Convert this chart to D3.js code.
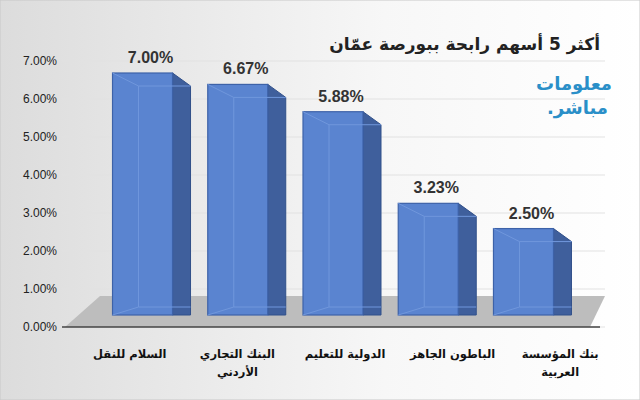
<!DOCTYPE html>
<html><head><meta charset="utf-8">
<script src="https://cdn.jsdelivr.net/npm/d3@7"></script>
<style>body{margin:0}svg{display:block}</style>
</head><body><svg id="c" width="640" height="400"></svg>
<script>
const categories = [["السلام للنقل"],["البنك التجاري","الأردني"],["الدولية للتعليم"],["الباطون الجاهز"],["بنك المؤسسة","العربية"]];
const values = [7.00, 6.67, 5.88, 3.23, 2.50];
const ticks = [0,1,2,3,4,5,6,7];

const svg = d3.select("#c");
const defs = svg.append("defs");
const bg = defs.append("linearGradient").attr("id","bg").attr("x1","0").attr("x2","1").attr("y1","0").attr("y2","0");
bg.append("stop").attr("offset","0").attr("stop-color","#dcdcdc");
bg.append("stop").attr("offset","0.6").attr("stop-color","#f7f7f7");
bg.append("stop").attr("offset","1").attr("stop-color","#ffffff");
svg.append("rect").attr("width",640).attr("height",400).attr("fill","url(#bg)").attr("stroke","#c8c8c8");

const yBack = d3.scaleLinear().domain([0,7]).range([327,61]);
const yFront = d3.scaleLinear().domain([0,7]).range([315,73]);
const x = d3.scaleBand().domain(d3.range(values.length)).range([103,563]).paddingInner(0.37).paddingOuter(0.1);
// labels sit on the front edge of the floor, which is wider in perspective
const xLab = d3.scaleBand().domain(d3.range(values.length)).range([76,614]);
const dx = 18, dy = 13;

svg.append("g").selectAll("line").data(ticks).enter().append("line")
  .attr("x1",62).attr("x2",605).attr("y1",d=>yBack(d)).attr("y2",d=>yBack(d))
  .attr("stroke","#e2e2e2").attr("stroke-width",1.2);
svg.append("g").selectAll("text").data(ticks).enter().append("text")
  .attr("x",57).attr("y",d=>yBack(d)+4).attr("text-anchor","end")
  .attr("font-family","Liberation Sans, Arial").attr("font-size",12).attr("fill","#222")
  .text(d=>d.toFixed(2)+"%");

svg.append("polygon").attr("points","100,296 605,296 590,327 65,327").attr("fill","#bdbdbd");
svg.append("line").attr("x1",62).attr("x2",600).attr("y1",327).attr("y2",327).attr("stroke","#444").attr("stroke-width",1.5);

const g = svg.append("g");
values.forEach((v,i)=>{
  const x0 = x(i), w = x.bandwidth(), t = yFront(v), b = yFront(0);
  g.append("polygon").attr("points",`${x0+w},${t} ${x0+w+dx},${t+dy} ${x0+w+dx},${b} ${x0+w},${b}`)
   .attr("fill","#3f5f9c").attr("stroke","#31508a");
  g.append("rect").attr("x",x0).attr("y",t).attr("width",w).attr("height",b-t)
   .attr("fill","#5a84d0").attr("stroke","#3d62a8").attr("stroke-width",1.2);
  g.append("polyline").attr("points",`${x0},${t} ${x0+dx+8},${t+dy} ${x0+w+dx},${t+dy}`)
   .attr("fill","none").attr("stroke","#7097dc").attr("stroke-width",1);
  g.append("line").attr("x1",x0+dx+8).attr("x2",x0+dx+8).attr("y1",t+dy).attr("y2",b-8)
   .attr("stroke","#7097dc");
  g.append("polyline").attr("points",`${x0},${b} ${x0+dx+8},${b-8} ${x0+w+dx},${b-8}`)
   .attr("fill","none").attr("stroke","#7097dc");
  g.append("text").attr("x",x0+w/2+8).attr("y",t-10).attr("text-anchor","middle")
   .attr("font-family","Liberation Sans, Arial").attr("font-weight","bold").attr("font-size",16).attr("fill","#333")
   .text(v.toFixed(2)+"%");
  categories[i].forEach((s,k)=>{
    g.append("text").attr("x",xLab(i)+xLab.bandwidth()/2).attr("y",358+k*18).attr("text-anchor","middle")
     .attr("font-family","DejaVu Sans").attr("font-weight","bold").attr("font-size",11.5).attr("fill","#111")
     .attr("direction","rtl").text(s);
  });
});

svg.append("text").attr("x",600).attr("y",50).attr("text-anchor","start").attr("direction","rtl")
  .attr("font-family","DejaVu Sans").attr("font-weight","bold").attr("font-size",17).attr("fill","#222")
  .text("أكثر 5 أسهم رابحة ببورصة عمّان");
svg.append("text").attr("x",612).attr("y",90).attr("text-anchor","start").attr("direction","rtl")
  .attr("font-family","DejaVu Sans").attr("font-weight","bold").attr("font-size",18).attr("fill","#2a8fc8")
  .text("معلومات");
svg.append("text").attr("x",608).attr("y",114).attr("text-anchor","start").attr("direction","rtl")
  .attr("font-family","DejaVu Sans").attr("font-weight","bold").attr("font-size",18).attr("fill","#2a8fc8")
  .text("مباشر.");
</script></body></html>
